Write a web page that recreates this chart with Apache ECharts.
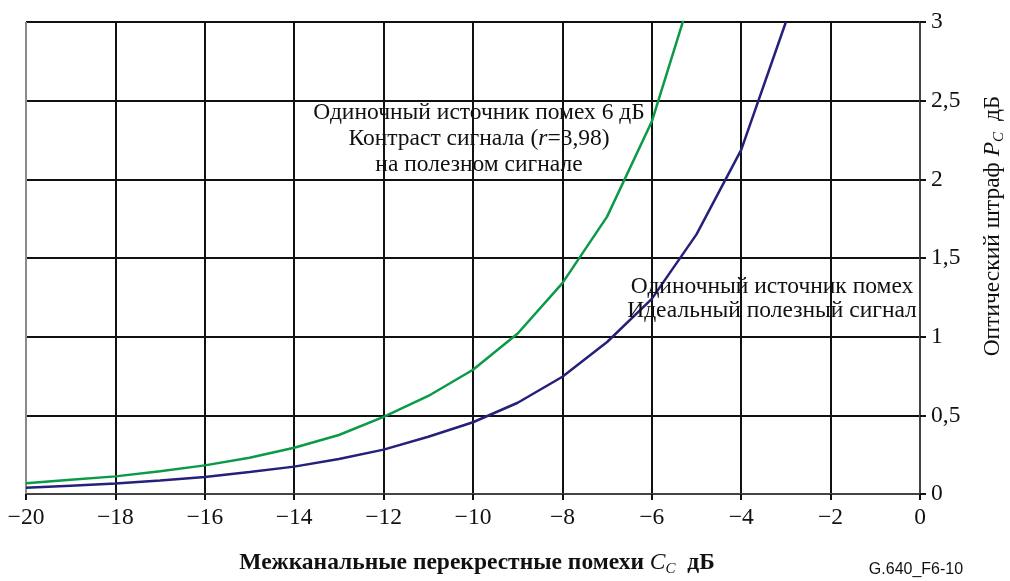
<!DOCTYPE html>
<html>
<head>
<meta charset="utf-8">
<script src="https://cdn.jsdelivr.net/npm/echarts@6/dist/echarts.min.js"></script>
<style>
  html, body { margin: 0; padding: 0; background: #fff; }
  #chart { width: 1010px; height: 581px; }
</style>
</head>
<body>
<div id="chart"></div>
<script>
// Межканальные перекрестные помехи, дБ
const crosstalkGreen = [-20, -19, -18, -17, -16, -15, -14, -13, -12, -11, -10, -9, -8, -7, -6, -5];
// Оптический штраф, дБ — контраст сигнала r = 3,98
const penaltyContrast = [0.068, 0.09, 0.112, 0.145, 0.182, 0.231, 0.294, 0.375, 0.49, 0.623, 0.79, 1.02, 1.34, 1.763, 2.367, 3.28];

const crosstalkBlue = [-20, -19, -18, -17, -16, -15, -14, -13, -12, -11, -10, -9, -8, -7, -6, -5, -4, -3];
// Оптический штраф, дБ — идеальный полезный сигнал
const penaltyIdeal = [0.04, 0.053, 0.066, 0.086, 0.108, 0.14, 0.174, 0.222, 0.282, 0.364, 0.456, 0.58, 0.745, 0.966, 1.24, 1.65, 2.187, 3.0];

const xTickLabels = ['−20', '−18', '−16', '−14', '−12', '−10', '−8', '−6', '−4', '−2', '0'];
const yTickLabels = ['0', '0,5', '1', '1,5', '2', '2,5', '3'];

const SERIF = '"Liberation Serif", "DejaVu Serif", serif';
const FS = 23.5;

function pairs(xs, ys) { return xs.map((x, i) => [x, ys[i]]); }

const chart = echarts.init(document.getElementById('chart'), null, { renderer: 'canvas' });

// the left border line is lighter than the inner grid
const gridColors = ['#8a8a8a'].concat(new Array(10).fill('#111'));

chart.setOption({
  animation: false,
  backgroundColor: '#fff',
  grid: { left: 26, right: 90, top: 22, bottom: 87, containLabel: false },
  xAxis: {
    type: 'value',
    min: -20, max: 0, interval: 2,
    axisLine: { show: true, onZero: false, lineStyle: { color: '#555', width: 1.5 } },
    axisTick: { show: true, inside: false, length: 6, lineStyle: { color: '#111', width: 2 } },
    axisLabel: {
      margin: 12,
      fontFamily: SERIF, fontSize: FS, color: '#111',
      formatter: v => xTickLabels[Math.round((v + 20) / 2)]
    },
    splitLine: { show: true, lineStyle: { color: gridColors, width: 2 } }
  },
  yAxis: {
    type: 'value',
    position: 'right',
    min: 0, max: 3, interval: 0.5,
    axisLine: { show: true, lineStyle: { color: '#555', width: 1.5 } },
    axisTick: { show: true, inside: false, length: 6, lineStyle: { color: '#111', width: 2 } },
    axisLabel: {
      margin: 11,
      fontFamily: SERIF, fontSize: FS, color: '#111',
      formatter: v => yTickLabels[Math.round(v * 2)]
    },
    splitLine: { show: true, lineStyle: { color: '#111', width: 2 } }
  },
  series: [
    {
      name: 'contrast',
      type: 'line',
      data: pairs(crosstalkGreen, penaltyContrast),
      showSymbol: false,
      clip: true,
      lineStyle: { color: '#0a9a48', width: 2.5 },
      z: 3
    },
    {
      name: 'ideal',
      type: 'line',
      data: pairs(crosstalkBlue, penaltyIdeal),
      showSymbol: false,
      clip: true,
      lineStyle: { color: '#25207a', width: 2.5 },
      z: 3
    }
  ],
  graphic: [
    {
      type: 'text', z: 10,
      position: [479, 100],
      style: {
        text: 'Одиночный источник помех 6 дБ\nКонтраст сигнала ({i|r}=3,98)\nна полезном сигнале',
        rich: { i: { fontStyle: 'italic', fontFamily: SERIF, fontSize: FS, fill: '#111', lineHeight: 26 } },
        fontFamily: SERIF, fontSize: FS, fill: '#111',
        align: 'center', verticalAlign: 'top', lineHeight: 26
      }
    },
    {
      type: 'text', z: 10,
      position: [772, 275],
      style: {
        text: 'Одиночный источник помех\nИдеальный полезный сигнал',
        fontFamily: SERIF, fontSize: FS, fill: '#111',
        align: 'center', verticalAlign: 'top', lineHeight: 24
      }
    },
    {
      type: 'text', z: 10,
      position: [993, 226],
      rotation: Math.PI / 2,
      style: {
        text: 'Оптический штраф {i|P}{sub|C} дБ',
        rich: {
          i: { fontStyle: 'italic', fontFamily: SERIF, fontSize: FS, fill: '#111' },
          sub: { fontStyle: 'italic', fontFamily: SERIF, fontSize: 15, fill: '#111', padding: [12, 5, 0, 0] }
        },
        fontFamily: SERIF, fontSize: FS, fill: '#111',
        align: 'center', verticalAlign: 'middle'
      }
    },
    {
      type: 'text', z: 10,
      position: [477, 563],
      style: {
        text: 'Межканальные перекрестные помехи {i|C}{sub|C}  дБ',
        rich: {
          i: { fontStyle: 'italic', fontWeight: 'normal', fontFamily: SERIF, fontSize: FS, fill: '#111' },
          sub: { fontStyle: 'italic', fontWeight: 'normal', fontFamily: SERIF, fontSize: 15, fill: '#111', padding: [12, 0, 0, 0] }
        },
        fontFamily: SERIF, fontSize: FS, fontWeight: 'bold', fill: '#111',
        align: 'center', verticalAlign: 'middle'
      }
    },
    {
      type: 'text', z: 10,
      position: [916, 570],
      style: {
        text: 'G.640_F6-10',
        fontFamily: '"Liberation Sans", Arial, sans-serif', fontSize: 16, fill: '#111',
        align: 'center', verticalAlign: 'middle'
      }
    }
  ]
});
</script>
</body>
</html>
